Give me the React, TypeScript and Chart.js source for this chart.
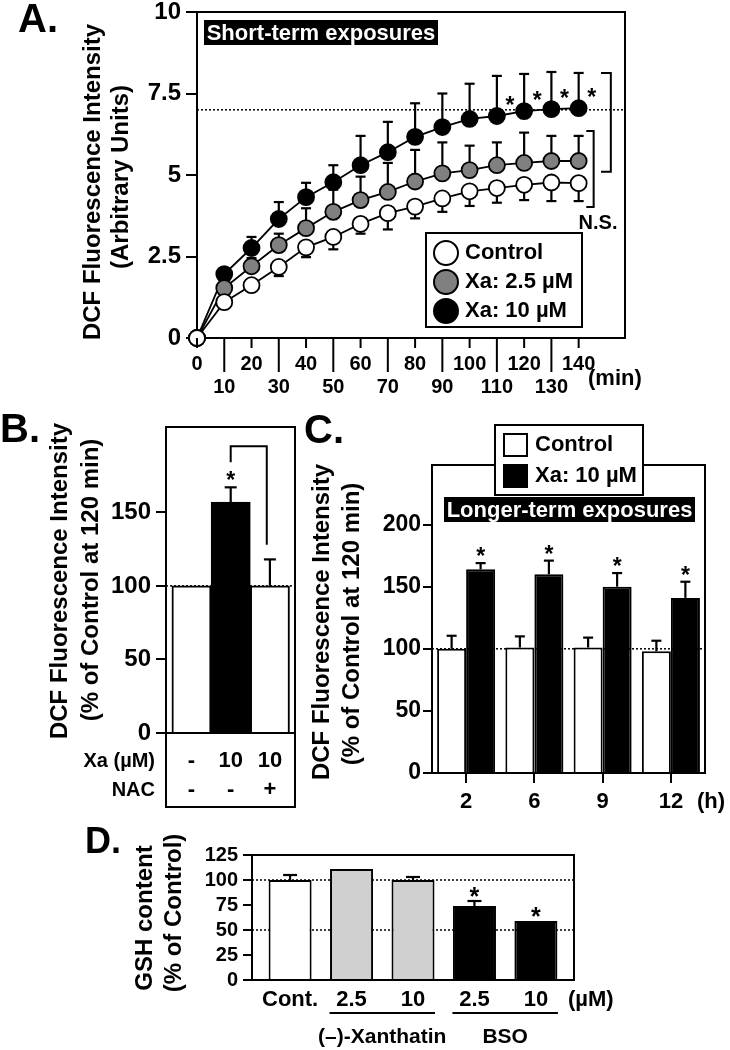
import React, { useEffect, useRef } from "react";
import { Chart, registerables } from "chart.js";

Chart.register(...registerables);

const FAMILY = '"Liberation Sans", Arial, Helvetica, sans-serif';
const LW = 2;

// ================= Panel A data =================
const timeMinA = [0, 10, 20, 30, 40, 50, 60, 70, 80, 90, 100, 110, 120, 130, 140];
const controlA = [0, 1.1, 1.62, 2.18, 2.78, 3.1, 3.5, 3.83, 4.03, 4.28, 4.5, 4.6, 4.7, 4.77, 4.75];
const controlLowA = [0, 1.1, 1.45, 1.9, 2.48, 2.72, 3.2, 3.33, 3.67, 3.87, 4.05, 4.15, 4.23, 4.2, 4.2];
const xa25A = [0, 1.53, 2.2, 2.85, 3.37, 3.87, 4.23, 4.48, 4.8, 5.05, 5.15, 5.3, 5.37, 5.43, 5.43];
const xa25HighA = [0, 1.7, 2.45, 3.2, 3.98, 4.55, 4.95, 5.37, 5.77, 6.0, 5.9, 6.0, 6.3, 6.2, 6.2];
const xa10A = [0, 1.96, 2.76, 3.65, 4.32, 4.78, 5.3, 5.7, 6.17, 6.47, 6.72, 6.81, 6.96, 7.02, 7.05];
const xa10HighA = [0, 2.1, 3.1, 4.17, 4.76, 5.3, 6.2, 6.63, 7.2, 7.5, 7.8, 8.04, 8.1, 8.16, 8.13];
const legendA = ["Control", "Xa: 2.5 µM", "Xa: 10 µM"];
const colorsA = ["#ffffff", "#808080", "#000000"];
const yTicksA = [0, 2.5, 5, 7.5, 10];
const xTicksA = [0, 10, 20, 30, 40, 50, 60, 70, 80, 90, 100, 110, 120, 130, 140];
const refLineA = 7.0;
const sigIdxA = [11, 12, 13, 14];
const bracketsA = [
  { x: 151.8, stub: 148.2, top: 8.13, bottom: 5.1 },
  { x: 145.5, stub: 142.8, top: 6.35, bottom: 4.02 },
];
const titleA = ["DCF Fluorescence Intensity", "(Arbitrary Units)"];

// ================= Panel B data =================
const xaRowB = ["-", "10", "10"];
const nacRowB = ["-", "-", "+"];
const valuesB = [100, 157, 100];
const errHighB = [100, 167, 118];
const colorsB = ["#ffffff", "#000000", "#ffffff"];
const yTicksB = [0, 50, 100, 150];
const sigB = [1];
const bracketB = { x1: 1, x2: 1.92, top: 195, leftEnd: 184, rightEnd: 128 };
const titleBC = ["DCF Fluorescence Intensity", "(% of Control at 120 min)"];

// ================= Panel C data =================
const hoursC = ["2", "6", "9", "12"];
const controlC = [100, 101, 101, 98];
const controlErrC = [110.5, 110, 109, 106.5];
const xa10C = [164, 160, 150, 141];
const xa10ErrC = [169, 171, 161, 154];
const legendC = ["Control", "Xa: 10 µM"];
const colorsC = ["#ffffff", "#000000"];
const yTicksC = [0, 50, 100, 150, 200];

// ================= Panel D data =================
const labelsD = ["Cont.", "2.5", "10", "2.5", "10"];
const valuesD = [100, 111, 100, 74, 59];
const errD = [105, 111, 103, 79, 59];
const colorsD = ["#ffffff", "#d0d0d0", "#d0d0d0", "#000000", "#000000"];
const yTicksD = [0, 25, 50, 75, 100, 125];
const refLinesD = [100, 50];
const sigD = [3, 4];
const groupsD = [
  { label: "(–)-Xanthatin", from: 1, to: 2 },
  { label: "BSO", from: 3, to: 4 },
];
const titleD = ["GSH content", "(% of Control)"];

// ================= helpers =================
type Rect = { x: number; y: number; w: number; h: number };
type Box = { x0: number; y0: number; x1: number; y1: number };

const padOf = (r: Rect, p: Box) => ({
  left: 0,
  top: p.y0 - r.y,
  right: r.x + r.w - p.x1,
  bottom: 0,
});

const fitY = (r: Rect, p: Box) => (s: any) => {
  s.width = p.x0 - r.x;
  s.paddingTop = 0;
  s.paddingBottom = 0;
  s.paddingLeft = 0;
  s.paddingRight = 0;
};
const fitX = (r: Rect, p: Box) => (s: any) => {
  s.height = r.y + r.h - p.y1;
  s.paddingTop = 0;
  s.paddingBottom = 0;
  s.paddingLeft = 0;
  s.paddingRight = 0;
};

const tickFont = (size: number, lineHeight = 1.2) => ({ family: FAMILY, size, weight: "bold" as any, lineHeight });

function drawText(ctx: any, s: string, x: number, y: number, size: number, align = "center", color = "#000", baseline = "middle") {
  ctx.save();
  ctx.font = `bold ${size}px ${FAMILY}`;
  ctx.fillStyle = color;
  ctx.textAlign = align;
  ctx.textBaseline = baseline;
  ctx.fillText(s, x, y);
  ctx.restore();
}
function drawVText(ctx: any, s: string, cx: number, cy: number, size: number) {
  ctx.save();
  ctx.translate(cx, cy);
  ctx.rotate(-Math.PI / 2);
  ctx.font = `bold ${size}px ${FAMILY}`;
  ctx.fillStyle = "#000";
  ctx.textAlign = "center";
  ctx.textBaseline = "middle";
  ctx.fillText(s, 0, 0);
  ctx.restore();
}
function drawStar(ctx: any, x: number, cy: number, size = 22) {
  drawText(ctx, "*", x, cy + size * 0.56, size, "center", "#000", "alphabetic");
}
function drawPath(ctx: any, pts: number[][], width = LW, dash: number[] = []) {
  ctx.save();
  ctx.strokeStyle = "#000";
  ctx.lineWidth = width;
  ctx.setLineDash(dash);
  ctx.beginPath();
  pts.forEach((p, i) => (i ? ctx.lineTo(p[0], p[1]) : ctx.moveTo(p[0], p[1])));
  ctx.stroke();
  ctx.restore();
}
function drawHDotted(ctx: any, x0: number, x1: number, y: number) {
  drawPath(ctx, [[x0, y], [x1, y]], 1.5, [2, 2]);
}
function strokeBox(ctx: any, x0: number, y0: number, x1: number, y1: number, fill?: string) {
  ctx.save();
  if (fill) {
    ctx.fillStyle = fill;
    ctx.fillRect(x0, y0, x1 - x0, y1 - y0);
  }
  ctx.strokeStyle = "#000";
  ctx.lineWidth = LW;
  ctx.strokeRect(x0, y0, x1 - x0, y1 - y0);
  ctx.restore();
}
function labelBox(ctx: any, s: string, b: Box, size: number) {
  ctx.save();
  ctx.fillStyle = "#000";
  ctx.fillRect(b.x0, b.y0, b.x1 - b.x0, b.y1 - b.y0);
  ctx.restore();
  drawText(ctx, s, (b.x0 + b.x1) / 2, (b.y0 + b.y1) / 2 + 1, size, "center", "#fff");
}
function errBar(ctx: any, x: number, yFrom: number, yTo: number, half: number) {
  drawPath(ctx, [[x, yFrom], [x, yTo]], 2.2);
  drawPath(ctx, [[x - half, yTo], [x + half, yTo]], 2.2);
}

const baseOptions = (pad: any) => ({
  responsive: false,
  maintainAspectRatio: false,
  animation: false,
  events: [],
  layout: { padding: pad, autoPadding: false },
  plugins: { legend: { display: false }, tooltip: { enabled: false }, title: { display: false } },
});

const yAxis = (r: Rect, p: Box, max: number, ticks: number[], size: number, tickLen: number, pad: number) => ({
  type: "linear",
  min: 0,
  max,
  afterBuildTicks: (s: any) => {
    s.ticks = ticks.map((v) => ({ value: v }));
  },
  afterFit: fitY(r, p),
  ticks: { color: "#000", font: tickFont(size), padding: pad, autoSkip: false, callback: (v: any) => String(v) },
  grid: { display: true, drawOnChartArea: false, drawTicks: true, tickLength: tickLen, color: "#000", lineWidth: LW },
  border: { display: true, color: "#000", width: LW },
});

// ================= Panel A =================
const rectA: Rect = { x: 0, y: 0, w: 730, h: 400 };
const plotA: Box = { x0: 197, y0: 12, x1: 625, y1: 338 };

function makeA(canvas: HTMLCanvasElement) {
  const series = [
    { label: legendA[0], values: controlA, bound: controlLowA, color: colorsA[0] },
    { label: legendA[1], values: xa25A, bound: xa25HighA, color: colorsA[1] },
    { label: legendA[2], values: xa10A, bound: xa10HighA, color: colorsA[2] },
  ];
  const plugin = {
    id: "panelA",
    beforeDatasetsDraw(chart: any) {
      const { ctx, chartArea: ca, scales } = chart;
      const { x, y } = scales;
      strokeBox(ctx, ca.left, ca.top, ca.right, ca.bottom);
      drawHDotted(ctx, ca.left, ca.right, y.getPixelForValue(refLineA));
      series.forEach((s) =>
        s.values.forEach((v, i) => {
          const b = s.bound[i];
          if (b === v) return;
          errBar(ctx, x.getPixelForValue(timeMinA[i]), y.getPixelForValue(v), y.getPixelForValue(b), 5);
        })
      );
    },
    afterDraw(chart: any) {
      const { ctx, chartArea: ca, scales } = chart;
      const { x, y } = scales;
      xTicksA.forEach((v, i) => {
        const px = x.getPixelForValue(v);
        drawPath(ctx, [[px, ca.bottom], [px, ca.bottom + (i % 2 ? 34 : 10)]], LW);
      });
      sigIdxA.forEach((i) => drawStar(ctx, x.getPixelForValue(timeMinA[i]) + 13, y.getPixelForValue(xa10A[i]) - 16, 23));
      bracketsA.forEach((b) => {
        const bx = x.getPixelForValue(b.x);
        const sx = x.getPixelForValue(b.stub);
        const t = y.getPixelForValue(b.top);
        const bo = y.getPixelForValue(b.bottom);
        drawPath(ctx, [[sx, t], [bx, t], [bx, bo], [sx, bo]], LW);
      });
      ctx.save();
      ctx.translate(-rectA.x, -rectA.y);
      drawText(ctx, "A.", 18, 32, 40, "left", "#000", "alphabetic");
      drawVText(ctx, titleA[0], 93, 182, 24);
      drawVText(ctx, titleA[1], 121, 177, 24);
      labelBox(ctx, "Short-term exposures", { x0: 204, y0: 20, x1: 438, y1: 45 }, 22);
      strokeBox(ctx, 426, 233, 582, 327, "#fff");
      series.forEach((s, i) => {
        const cy = 253 + i * 29;
        ctx.save();
        ctx.beginPath();
        ctx.arc(446, cy, 12, 0, Math.PI * 2);
        ctx.fillStyle = s.color;
        ctx.fill();
        ctx.lineWidth = LW;
        ctx.strokeStyle = "#000";
        ctx.stroke();
        ctx.restore();
        drawText(ctx, s.label, 465, cy, 22, "left");
      });
      drawText(ctx, "N.S.", 598, 223, 20);
      drawText(ctx, "(min)", 588, 379, 22, "left");
      ctx.restore();
    },
  };
  return new Chart(canvas, {
    type: "line",
    data: {
      datasets: series.map((s) => ({
        label: s.label,
        data: timeMinA.map((t, i) => ({ x: t, y: s.values[i] })),
        borderColor: "#000",
        borderWidth: 1.8,
        backgroundColor: s.color,
        pointRadius: 8,
        pointHoverRadius: 8,
        pointBackgroundColor: s.color,
        pointBorderColor: "#000",
        pointBorderWidth: 1.8,
        tension: 0,
        fill: false,
        clip: false,
      })),
    },
    options: {
      ...baseOptions(padOf(rectA, plotA)),
      scales: {
        x: {
          type: "linear",
          min: 0,
          max: 157,
          offset: false,
          afterBuildTicks: (s: any) => {
            s.ticks = xTicksA.map((v) => ({ value: v }));
          },
          afterFit: fitX(rectA, plotA),
          ticks: {
            color: "#000",
            font: tickFont(20, 1.15),
            padding: 15,
            autoSkip: false,
            maxRotation: 0,
            minRotation: 0,
            callback: (v: any) => {
              const i = xTicksA.indexOf(v);
              return i % 2 === 0 ? String(v) : ["", String(v)];
            },
          },
          grid: { display: false, drawTicks: false },
          border: { display: true, color: "#000", width: LW },
        },
        y: yAxis(rectA, plotA, 10, yTicksA, 24, 11, 5),
      },
    },
    plugins: [plugin],
  } as any);
}

// ================= Panel B =================
const rectB: Rect = { x: 0, y: 400, w: 300, h: 415 };
const plotB: Box = { x0: 166, y0: 427, x1: 295, y1: 733 };
const tableHB = 74;

function makeB(canvas: HTMLCanvasElement) {
  const rows = [
    { label: "Xa (µM)", cells: xaRowB },
    { label: "NAC", cells: nacRowB },
  ];
  const plugin = {
    id: "panelB",
    beforeDatasetsDraw(chart: any) {
      const { ctx, chartArea: ca, scales } = chart;
      strokeBox(ctx, ca.left, ca.top, ca.right, ca.bottom + tableHB);
      drawHDotted(ctx, ca.left, ca.right, scales.y.getPixelForValue(100));
    },
    afterDraw(chart: any) {
      const { ctx, chartArea: ca, scales } = chart;
      const { x, y } = scales;
      const meta = chart.getDatasetMeta(0);
      valuesB.forEach((v, i) => {
        if (errHighB[i] > v) errBar(ctx, meta.data[i].x, y.getPixelForValue(v), y.getPixelForValue(errHighB[i]), 6);
      });
      sigB.forEach((i) => drawStar(ctx, meta.data[i].x, y.getPixelForValue(errHighB[i]) - 12, 23));
      const bx1 = x.getPixelForValue(bracketB.x1);
      const bx2 = x.getPixelForValue(bracketB.x2);
      const bt = y.getPixelForValue(bracketB.top);
      drawPath(ctx, [[bx1, y.getPixelForValue(bracketB.leftEnd)], [bx1, bt], [bx2, bt], [bx2, y.getPixelForValue(bracketB.rightEnd)]], LW);
      rows.forEach((row, r) => {
        const cy = ca.bottom + 28 + r * 29;
        drawText(ctx, row.label, ca.left - 11, cy, 20, "right");
        row.cells.forEach((c, i) => drawText(ctx, c, x.getPixelForValue(i), cy, 22));
      });
      ctx.save();
      ctx.translate(-rectB.x, -rectB.y);
      drawText(ctx, "B.", 0, 442, 40, "left", "#000", "alphabetic");
      drawVText(ctx, titleBC[0], 60, 581, 24);
      drawVText(ctx, titleBC[1], 91, 580, 24);
      ctx.restore();
    },
  };
  return new Chart(canvas, {
    type: "bar",
    data: {
      datasets: [
        {
          data: valuesB.map((v, i) => ({ x: i, y: v })),
          backgroundColor: colorsB,
          borderColor: "#000",
          borderWidth: LW,
          barPercentage: 1,
          categoryPercentage: 1,
        },
      ],
    },
    options: {
      ...baseOptions(padOf(rectB, plotB)),
      scales: {
        x: {
          type: "linear",
          min: -0.65,
          max: 2.64,
          offset: false,
          afterFit: fitX(rectB, plotB),
          ticks: { display: false },
          grid: { display: false, drawTicks: false, offset: false },
          border: { display: true, color: "#000", width: LW },
        },
        y: yAxis(rectB, plotB, 208, yTicksB, 24, 10, 5),
      },
    },
    plugins: [plugin],
  } as any);
}

// ================= Panel C =================
const rectC: Rect = { x: 300, y: 400, w: 430, h: 415 };
const plotC: Box = { x0: 432, y0: 465, x1: 705, y1: 773 };

function makeC(canvas: HTMLCanvasElement) {
  const errs = [controlErrC, xa10ErrC];
  const vals = [controlC, xa10C];
  const plugin = {
    id: "panelC",
    beforeDatasetsDraw(chart: any) {
      const { ctx, chartArea: ca, scales } = chart;
      strokeBox(ctx, ca.left, ca.top, ca.right, ca.bottom);
      drawHDotted(ctx, ca.left, ca.right, scales.y.getPixelForValue(100));
    },
    afterDraw(chart: any) {
      const { ctx, scales } = chart;
      const { y } = scales;
      vals.forEach((vs, d) => {
        const meta = chart.getDatasetMeta(d);
        vs.forEach((v, i) => {
          if (errs[d][i] > v) errBar(ctx, meta.data[i].x, y.getPixelForValue(v), y.getPixelForValue(errs[d][i]), 5);
        });
      });
      const metaX = chart.getDatasetMeta(1);
      xa10C.forEach((v, i) => drawStar(ctx, metaX.data[i].x, y.getPixelForValue(xa10ErrC[i]) - 12, 23));
      ctx.save();
      ctx.translate(-rectC.x, -rectC.y);
      drawText(ctx, "C.", 304, 443, 40, "left", "#000", "alphabetic");
      drawVText(ctx, titleBC[0], 322, 622, 24);
      drawVText(ctx, titleBC[1], 352, 624, 24);
      strokeBox(ctx, 495, 425, 643, 495, "#fff");
      legendC.forEach((l, i) => {
        const cy = 445 + i * 31;
        strokeBox(ctx, 504, cy - 11, 527, cy + 11, colorsC[i]);
        drawText(ctx, l, 535, cy, 22, "left");
      });
      labelBox(ctx, "Longer-term exposures", { x0: 444, y0: 497, x1: 695, y1: 522 }, 22);
      drawText(ctx, "(h)", 697, 802, 22, "left");
      ctx.restore();
    },
  };
  return new Chart(canvas, {
    type: "bar",
    data: {
      labels: hoursC,
      datasets: [
        { label: legendC[0], data: controlC, backgroundColor: colorsC[0], borderColor: "#000", borderWidth: LW, categoryPercentage: 0.85, barPercentage: 1 },
        { label: legendC[1], data: xa10C, backgroundColor: colorsC[1], borderColor: "#000", borderWidth: LW, categoryPercentage: 0.85, barPercentage: 1 },
      ],
    },
    options: {
      ...baseOptions(padOf(rectC, plotC)),
      scales: {
        x: {
          type: "category",
          offset: true,
          afterFit: fitX(rectC, plotC),
          ticks: { color: "#000", font: tickFont(22), padding: 6, autoSkip: false, maxRotation: 0, minRotation: 0 },
          grid: { display: true, drawOnChartArea: false, drawTicks: true, tickLength: 10, offset: false, color: "#000", lineWidth: LW },
          border: { display: true, color: "#000", width: LW },
        },
        y: yAxis(rectC, plotC, 248, yTicksC, 23, 9, 2),
      },
    },
    plugins: [plugin],
  } as any);
}

// ================= Panel D =================
const rectD: Rect = { x: 0, y: 815, w: 730, h: 235 };
const plotD: Box = { x0: 252, y0: 855, x1: 574, y1: 980 };

function makeD(canvas: HTMLCanvasElement) {
  const plugin = {
    id: "panelD",
    beforeDatasetsDraw(chart: any) {
      const { ctx, chartArea: ca, scales } = chart;
      strokeBox(ctx, ca.left, ca.top, ca.right, ca.bottom);
      refLinesD.forEach((r) => drawHDotted(ctx, ca.left, ca.right, scales.y.getPixelForValue(r)));
    },
    afterDraw(chart: any) {
      const { ctx, chartArea: ca, scales } = chart;
      const { x, y } = scales;
      const meta = chart.getDatasetMeta(0);
      valuesD.forEach((v, i) => {
        if (errD[i] > v) errBar(ctx, meta.data[i].x, y.getPixelForValue(v), y.getPixelForValue(errD[i]), 7);
      });
      sigD.forEach((i) => drawStar(ctx, meta.data[i].x, y.getPixelForValue(Math.max(errD[i], valuesD[i])) - 10, 25));
      groupsD.forEach((g) => {
        const x0 = x.getPixelForValue(g.from) - 22;
        const x1 = x.getPixelForValue(g.to) + 22;
        drawPath(ctx, [[x0, ca.bottom + 33], [x1, ca.bottom + 33]], 2);
        drawText(ctx, g.label, (x0 + x1) / 2, ca.bottom + 57, 21);
      });
      ctx.save();
      ctx.translate(-rectD.x, -rectD.y);
      drawText(ctx, "D.", 85, 853, 36, "left", "#000", "alphabetic");
      drawVText(ctx, titleD[0], 145, 918, 24);
      drawVText(ctx, titleD[1], 174, 913, 24);
      drawText(ctx, "(µM)", 568, 1000, 22, "left");
      ctx.restore();
    },
  };
  return new Chart(canvas, {
    type: "bar",
    data: {
      datasets: [
        {
          data: valuesD.map((v, i) => ({ x: i, y: v })),
          backgroundColor: colorsD,
          borderColor: "#000",
          borderWidth: LW,
          barPercentage: 0.7,
          categoryPercentage: 1,
        },
      ],
    },
    options: {
      ...baseOptions(padOf(rectD, plotD)),
      scales: {
        x: {
          type: "linear",
          min: -0.62,
          max: 4.62,
          offset: false,
          afterBuildTicks: (s: any) => {
            s.ticks = labelsD.map((_, i) => ({ value: i }));
          },
          afterFit: fitX(rectD, plotD),
          ticks: {
            color: "#000",
            font: tickFont(22),
            padding: 7,
            autoSkip: false,
            maxRotation: 0,
            minRotation: 0,
            callback: (v: any) => labelsD[v] ?? "",
          },
          grid: { display: false, drawTicks: false, offset: false },
          border: { display: true, color: "#000", width: LW },
        },
        y: yAxis(rectD, plotD, 125, yTicksD, 20, 9, 5),
      },
    },
    plugins: [plugin],
  } as any);
}

// ================= components =================
function ChartCanvas({ rect, make }: { rect: Rect; make: (c: HTMLCanvasElement) => Chart }) {
  const ref = useRef<HTMLCanvasElement | null>(null);
  useEffect(() => {
    if (!ref.current) return;
    const chart = make(ref.current);
    return () => chart.destroy();
  }, [rect, make]);
  return (
    <canvas
      ref={ref}
      width={rect.w}
      height={rect.h}
      style={{ position: "absolute", left: rect.x, top: rect.y, width: rect.w, height: rect.h, display: "block" }}
    />
  );
}

export default function App() {
  return (
    <div style={{ position: "absolute", left: 0, top: 0, width: 730, height: 1050, background: "#fff", overflow: "hidden" }}>
      <ChartCanvas rect={rectA} make={makeA} />
      <ChartCanvas rect={rectB} make={makeB} />
      <ChartCanvas rect={rectC} make={makeC} />
      <ChartCanvas rect={rectD} make={makeD} />
    </div>
  );
}
